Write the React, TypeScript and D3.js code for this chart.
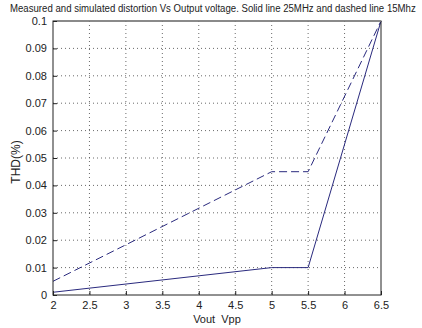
import { useEffect, useRef } from 'react';
import * as d3 from 'd3';

const VOUT = [2, 5, 5.5, 6.5];
const THD_25MHZ = [0.001, 0.01, 0.01, 0.1];
const THD_15MHZ = [0.005, 0.045, 0.045, 0.1];
const X_TICKS = [2, 2.5, 3, 3.5, 4, 4.5, 5, 5.5, 6, 6.5];
const Y_TICKS = [0, 0.01, 0.02, 0.03, 0.04, 0.05, 0.06, 0.07, 0.08, 0.09, 0.1];

const WIDTH = 422;
const HEIGHT = 328;
const MARGIN = { top: 21, right: 41, bottom: 33, left: 53 };
const LINE = '#2a2a7e';
const FONT = '"Liberation Sans", Arial, sans-serif';
const TITLE = 'Measured and simulated distortion Vs Output voltage. Solid line 25MHz and dashed line 15Mhz';

export default function App() {
  const svgRef = useRef<SVGSVGElement>(null);

  useEffect(() => {
    const svg = d3.select(svgRef.current);
    svg.selectAll('*').remove();
    svg.style('font-family', FONT);

    const innerW = WIDTH - MARGIN.left - MARGIN.right;
    const innerH = HEIGHT - MARGIN.top - MARGIN.bottom;

    const x = d3.scaleLinear().domain([2, 6.5]).range([0, innerW]);
    const y = d3.scaleLinear().domain([0, 0.1]).range([innerH, 0]);

    svg.append('rect').attr('width', WIDTH).attr('height', HEIGHT).attr('fill', '#fff');

    const g = svg.append('g').attr('transform', `translate(${MARGIN.left},${MARGIN.top})`);

    // grid
    g.append('g')
      .selectAll('line')
      .data(X_TICKS.slice(1, -1))
      .join('line')
      .attr('x1', (d) => x(d))
      .attr('x2', (d) => x(d))
      .attr('y1', 0)
      .attr('y2', innerH)
      .attr('stroke', '#444')
      .attr('stroke-width', 0.8)
      .attr('stroke-dasharray', '1,3');
    g.append('g')
      .selectAll('line')
      .data(Y_TICKS.slice(1, -1))
      .join('line')
      .attr('x1', 0)
      .attr('x2', innerW)
      .attr('y1', (d) => y(d))
      .attr('y2', (d) => y(d))
      .attr('stroke', '#444')
      .attr('stroke-width', 0.8)
      .attr('stroke-dasharray', '1,3');

    // lines
    const line = d3
      .line<[number, number]>()
      .x((d) => x(d[0]))
      .y((d) => y(d[1]));

    g.append('path')
      .datum(VOUT.map((v, i) => [v, THD_25MHZ[i]] as [number, number]))
      .attr('d', line)
      .attr('fill', 'none')
      .attr('stroke', LINE)
      .attr('stroke-width', 1);

    g.append('path')
      .datum(VOUT.map((v, i) => [v, THD_15MHZ[i]] as [number, number]))
      .attr('d', line)
      .attr('fill', 'none')
      .attr('stroke', LINE)
      .attr('stroke-width', 1)
      .attr('stroke-dasharray', '8,4');

    // box
    g.append('rect')
      .attr('width', innerW)
      .attr('height', innerH)
      .attr('fill', 'none')
      .attr('stroke', '#222')
      .attr('stroke-width', 1);
    g.append('line')
      .attr('x1', 0)
      .attr('x2', innerW)
      .attr('y1', 0)
      .attr('y2', 0)
      .attr('stroke', '#888')
      .attr('stroke-width', 1.5);

    // axes, MATLAB-style inward ticks
    const xAxis = d3
      .axisBottom(x)
      .tickValues(X_TICKS)
      .tickFormat((d) => String(d))
      .tickSizeInner(-4)
      .tickSizeOuter(0)
      .tickPadding(6);
    g.append('g')
      .attr('transform', `translate(0,${innerH})`)
      .call(xAxis)
      .call((s) => s.select('.domain').remove())
      .call((s) => s.selectAll('line').attr('stroke', '#222'))
      .selectAll('text')
      .style('font-size', '11px')
      .style('font-family', FONT)
      .attr('fill', '#222');

    const yAxis = d3
      .axisLeft(y)
      .tickValues(Y_TICKS)
      .tickFormat((d) => String(d))
      .tickSizeInner(-4)
      .tickSizeOuter(0)
      .tickPadding(6);
    g.append('g')
      .call(yAxis)
      .call((s) => s.select('.domain').remove())
      .call((s) => s.selectAll('line').attr('stroke', '#222'))
      .selectAll('text')
      .style('font-size', '11px')
      .style('font-family', FONT)
      .attr('fill', '#222');

    // labels
    svg.append('text')
      .attr('x', MARGIN.left + innerW / 2)
      .attr('y', 323)
      .attr('text-anchor', 'middle')
      .style('font-size', '11px')
      .style('white-space', 'pre')
      .attr('fill', '#222')
      .text('Vout  Vpp');

    svg.append('text')
      .attr('transform', `translate(20,162) rotate(-90)`)
      .attr('text-anchor', 'middle')
      .style('font-size', '12px')
      .attr('fill', '#222')
      .text('THD(%)');

    // title: the source uses a narrow font, so squeeze it horizontally to fit
    const title = svg.append('text')
      .attr('x', 0)
      .attr('y', 0)
      .style('font-size', '11px')
      .attr('fill', '#222')
      .text(TITLE);
    const natural = (title.node() as SVGTextElement).getComputedTextLength();
    const sx = Math.min(1, 406 / natural);
    title.attr('transform', `translate(10,12) scale(${sx},1)`);
  }, []);

  return (
    <div style={{ position: 'absolute', left: 0, top: 0 }}>
      <svg ref={svgRef} width={WIDTH} height={HEIGHT} />
    </div>
  );
}
